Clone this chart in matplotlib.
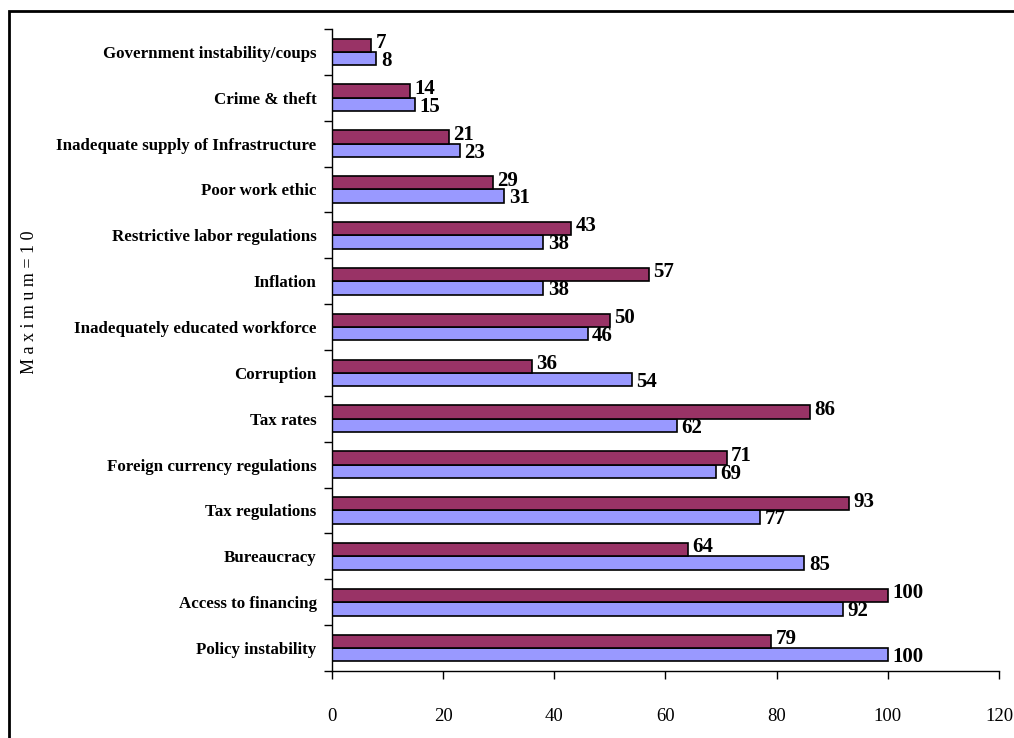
import numpy as np
import matplotlib.pyplot as plt
from matplotlib.patches import Rectangle

# categories listed bottom -> top
categories = [
    'Policy instability',
    'Access to financing',
    'Bureaucracy',
    'Tax regulations',
    'Foreign currency regulations',
    'Tax rates',
    'Corruption',
    'Inadequately educated workforce',
    'Inflation',
    'Restrictive labor regulations',
    'Poor work ethic',
    'Inadequate supply of Infrastructure',
    'Crime & theft',
    'Government instability/coups',
]
blue_vals = [100, 92, 85, 77, 69, 62, 54, 46, 38, 38, 31, 23, 15, 8]
maroon_vals = [79, 100, 64, 93, 71, 86, 36, 50, 57, 43, 29, 21, 14, 7]
xticks = [0, 20, 40, 60, 80, 100, 120]

serif = ['Liberation Serif', 'DejaVu Serif']
blue = '#9999FF'
maroon = '#993366'

fig = plt.figure(figsize=(10.14, 7.38), dpi=100)
ax = fig.add_axes([0.3274, 0.0908, 0.6578, 0.8699])

y = np.arange(len(categories))
h = 0.29
ax.barh(y - h / 2, blue_vals, height=h, color=blue, edgecolor='black', linewidth=1.2)
ax.barh(y + h / 2, maroon_vals, height=h, color=maroon, edgecolor='black', linewidth=1.2)

for i in range(len(categories)):
    ax.text(blue_vals[i] + 0.8, y[i] - h / 2 - 0.05, str(blue_vals[i]), va='center', ha='left',
            fontsize=15, fontweight='bold', family=serif)
    ax.text(maroon_vals[i] + 0.8, y[i] + h / 2 + 0.05, str(maroon_vals[i]), va='center', ha='left',
            fontsize=15, fontweight='bold', family=serif)

ax.set_xlim(0, 120)
ax.set_ylim(-0.5, len(categories) - 0.5)
ax.set_xticks(xticks)
ax.set_xticklabels([str(v) for v in xticks], family=serif, fontsize=13.5)
ax.tick_params(axis='x', direction='out', length=6, width=1, pad=21)

ax.set_yticks(y)
ax.set_yticklabels(categories, family=serif, fontsize=12.2, fontweight='bold')
ax.set_yticks(np.arange(len(categories) + 1) - 0.5, minor=True)
ax.tick_params(axis='y', which='major', length=0, pad=11)
ax.tick_params(axis='y', which='minor', direction='out', length=6, width=1)

for s in ['top', 'right']:
    ax.spines[s].set_visible(False)
for s in ['left', 'bottom']:
    ax.spines[s].set_linewidth(1)

# outer frame (runs off the right and bottom edges)
fig.patches.append(Rectangle((9 / 1014, -0.1), 1.2, 1 - 11 / 738 + 0.1, transform=fig.transFigure,
                             fill=False, edgecolor='black', linewidth=2))

# y-axis title, cut off at the top like in the original
t = fig.text(30 / 1014, 1 - 374 / 738, 'M a x i m u m = 1 0 0', rotation=90, ha='center', va='bottom',
             fontsize=13, family=serif)
clip = Rectangle((0, 1 - 374 / 738), 0.1, 142 / 738, transform=fig.transFigure, visible=False)
fig.patches.append(clip)
t.set_clip_path(clip)

fig.savefig('out.png', dpi=100)
